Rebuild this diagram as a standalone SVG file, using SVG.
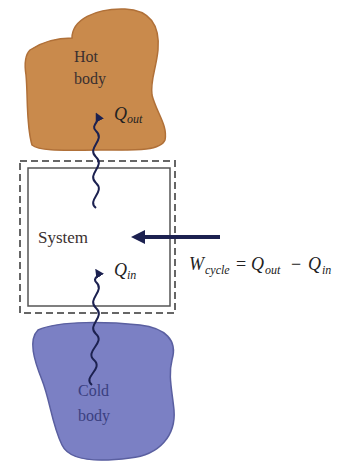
<svg xmlns="http://www.w3.org/2000/svg" width="354" height="469" viewBox="0 0 354 469">
<style>
.t{font-family:"Liberation Serif",serif;font-size:16px;fill:#3a3030}
.tc{font-family:"Liberation Serif",serif;font-size:16px;fill:#3a3f80}
.m{font-family:"Liberation Serif",serif;font-style:italic;font-size:18px;fill:#222}
.s{font-family:"Liberation Serif",serif;font-style:italic;font-size:12px;fill:#222}
.wave{fill:none;stroke:#1c2150;stroke-width:2}
</style>
<defs>
<marker id="ah" markerWidth="9" markerHeight="9" refX="4" refY="4.5" orient="auto" markerUnits="userSpaceOnUse">
<path d="M0,0 L9,4.5 L0,9 Z" fill="#1c2150"/>
</marker>
</defs>
<rect width="354" height="469" fill="#fff"/>
<g id="hot-body">
<path d="M30,50 C45,40 60,38 72,38 C72,20 95,8 125,9 C150,10 160,25 158,50 C156,70 150,80 152,95 C156,112 168,125 165,140 C160,152 130,150 100,150 C70,150 40,152 32,145 C26,125 28,95 26,75 C24,62 26,54 30,50 Z" fill="#c98a4c" stroke="#b07038" stroke-width="1.5"/>
<text class="t" x="74" y="62">Hot</text>
<text class="t" x="74" y="84">body</text>
<text class="m" x="114" y="120">Q</text>
<text class="s" x="127" y="123">out</text>
</g>
<g id="system">
<rect x="20" y="161" width="155" height="152" fill="none" stroke="#666" stroke-width="2" stroke-dasharray="7,4"/>
<rect x="28" y="168" width="142" height="138" fill="#fff" stroke="#555" stroke-width="1.5"/>
<text class="t" x="38" y="243" style="font-size:17px">System</text>
<text class="m" x="114" y="276">Q</text>
<text class="s" x="127" y="279">in</text>
</g>
<g id="cold-body">
<path d="M38,330 C60,320 110,322 140,325 C165,328 178,340 172,360 C168,375 172,390 174,410 C176,435 160,455 130,458 C100,462 70,462 62,445 C52,425 50,400 42,380 C34,360 28,340 38,330 Z" fill="#7b80c4" stroke="#5a5fa0" stroke-width="1.5"/>
<text class="tc" x="78" y="396">Cold</text>
<text class="tc" x="78" y="421">body</text>
</g>
<g id="connectors">
<path class="wave" d="M96,208 C86,200 106,192 96,183 C86,174 106,166 96,157 C86,148 106,140 96,131 C90,126 100,121 98,117" marker-end="url(#ah)"/>
<path class="wave" d="M92,385 C82,377 104,369 94,360 C84,351 106,343 96,334 C86,325 106,317 96,308 C86,299 106,291 96,282 C92,278 100,276 98,273" marker-end="url(#ah)"/>
<line x1="220" y1="237" x2="140" y2="237" stroke="#1c2150" stroke-width="4"/>
<path d="M131,237 L145,230 L145,244 Z" fill="#1c2150"/>
</g>
<g id="work-label">
<text class="m" x="189" y="270">W</text>
<text class="s" x="205" y="274">cycle</text>
<text class="m" x="236" y="270" style="font-style:normal">=</text>
<text class="m" x="251" y="270">Q</text>
<text class="s" x="265" y="274">out</text>
<text class="m" x="291" y="270" style="font-style:normal">−</text>
<text class="m" x="308" y="270">Q</text>
<text class="s" x="322" y="274">in</text>
</g>
</svg>
